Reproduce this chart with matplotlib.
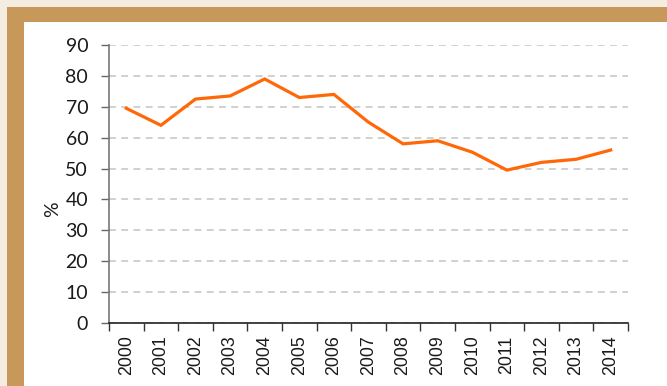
import matplotlib.pyplot as plt
from matplotlib.patches import Rectangle
from matplotlib.ticker import FixedLocator

years = ['2000', '2001', '2002', '2003', '2004', '2005', '2006', '2007',
         '2008', '2009', '2010', '2011', '2012', '2013', '2014']
values = [69.5, 64.0, 72.5, 73.5, 79.0, 73.0, 74.0, 65.0,
          58.0, 59.0, 55.3, 49.5, 52.0, 53.0, 56.0]
y_ticks = list(range(0, 100, 10))

plt.rcParams['font.family'] = ['Liberation Sans', 'DejaVu Sans']

fig = plt.figure(figsize=(6.67, 3.86), dpi=100)
W, H = 667, 386

# cream page, tan frame band, white panel
fig.patches.append(Rectangle((0, 0), 1, 1, transform=fig.transFigure,
                             facecolor='#F6EDE1', edgecolor='none', zorder=-3))
fig.patches.append(Rectangle((7 / W, 0), 1, 1 - 7 / H, transform=fig.transFigure,
                             facecolor='#C8985A', edgecolor='none', zorder=-2))
fig.patches.append(Rectangle((24 / W, 0), 1, 1 - 22 / H, transform=fig.transFigure,
                             facecolor='white', edgecolor='none', zorder=-1))

ax = fig.add_axes([109 / W, 1 - 323 / H, (628 - 109) / W, (323 - 45) / H])
ax.set_facecolor('none')

x = list(range(len(years)))
ax.plot(x, values, color='#FF6808', linewidth=2.3, solid_joinstyle='miter', zorder=3)

ax.set_xlim(-0.5, len(years) - 0.5)
ax.set_ylim(0, 90)
ax.set_yticks(y_ticks)
ax.set_yticklabels([str(v) for v in y_ticks], fontsize=14, family=['Lato', 'DejaVu Sans'],
                   color='#1a1a1a')
ax.set_xticks(x)
ax.set_xticklabels(years, rotation=90, fontsize=12.8, color='#1a1a1a')
ax.xaxis.set_minor_locator(FixedLocator([i - 0.5 for i in range(len(years) + 1)]))

ax.tick_params(axis='x', which='major', length=0, pad=9)
ax.tick_params(axis='x', which='minor', length=6, width=1, color='#333333', direction='out')
ax.tick_params(axis='y', length=6, width=1, color='#666666', direction='out', pad=9)

for s in ['top', 'right']:
    ax.spines[s].set_visible(False)
ax.spines['left'].set_color('#777777')
ax.spines['left'].set_linewidth(1.2)
ax.spines['bottom'].set_color('#222222')
ax.spines['bottom'].set_linewidth(1.2)

ax.yaxis.grid(True, linestyle=(0, (4.5, 3.5)), color='#C4C4C4', linewidth=1.1)
ax.set_axisbelow(True)

fig.text(53 / W, 1 - 209 / H, '%', rotation=90, fontsize=14,
         family=['Lato', 'DejaVu Sans'], ha='center', va='center', color='#1a1a1a')

fig.savefig('out.png', dpi=100)
